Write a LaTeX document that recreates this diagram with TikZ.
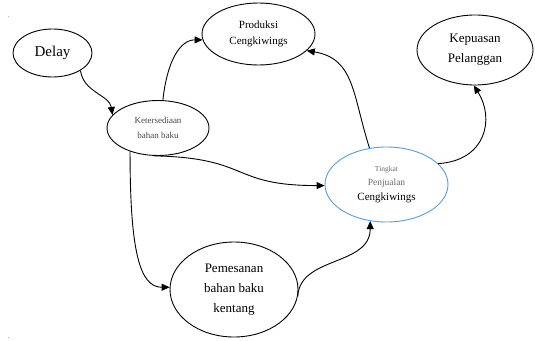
\documentclass[tikz,border=0pt]{standalone}
\usepackage{fontspec}
\setmainfont{Liberation Serif}
\usetikzlibrary{arrows.meta,shapes.geometric}
\definecolor{ringblue}{RGB}{91,155,213}
\definecolor{softtext}{RGB}{70,70,70}
\definecolor{greytext}{RGB}{105,105,105}
\newcommand{\fs}[2]{\fontsize{#1}{#2}\selectfont}
\tikzset{
  oval/.style={ellipse,draw=black,line width=0.9pt,inner sep=0pt,align=center},
  link/.style={line width=0.9pt,-{Triangle[length=8pt,width=7pt]}},
  speck/.style={fill=gray!60,draw=none}
}
\begin{document}
\begin{tikzpicture}[x=1pt,y=-1pt]
\useasboundingbox (0,0) rectangle (535,340);
\node[oval,font=\fs{15}{18},minimum width=79pt,minimum height=48pt] (delay) at (52.5,53) {Delay};
\node[oval,font=\fs{9}{15},text=softtext,minimum width=102pt,minimum height=55pt] (ket) at (158,128) {Ketersediaan\\bahan baku};
\node[oval,font=\fs{11}{16},minimum width=113pt,minimum height=62pt] (prod) at (258.5,34) {Produksi\\Cengkiwings};
\node[oval,font=\fs{13}{20},minimum width=116pt,minimum height=70pt] (kep) at (475,50) {Kepuasan\\Pelanggan};
\node[oval,font=\fs{9.5}{14},draw=ringblue,minimum width=123pt,minimum height=75pt] (tin) at (386.5,184.5) {{\fs{7.5}{12}\color{greytext}Tingkat}\\{\color{greytext}Penjualan}\\[1pt]{\fs{11}{14}Cengkiwings}};
\node[oval,font=\fs{13}{20},minimum width=128pt,minimum height=95pt] (pem) at (234,289.5) {Pemesanan\\bahan baku\\kentang};
\draw[link] (delay.-32) .. controls +(3,22) and +(-3,-20) .. (ket.164);
\draw[link] (ket.80) .. controls +(4,-38) and +(-23,0) .. (prod.186);
\draw[link] (ket.220) .. controls +(0,100) and +(-30,0) .. (pem.178);
\draw[link] (ket.-98) .. controls +(97,2) and +(-95,0) .. (tin.181);
\draw[link] (pem.-6) .. controls +(2,-40) and +(0,45) .. (tin.246);
\draw[link] (tin.115) .. controls +(-17,-53) and +(48,8) .. (prod.-19);
\draw[link] (tin.22) .. controls +(48,-3) and +(21,33) .. (kep.-92);
\fill[speck] (7.5,15.5) rectangle (9,17);
\fill[speck] (7.5,336.5) rectangle (9,338);
\end{tikzpicture}
\end{document}
